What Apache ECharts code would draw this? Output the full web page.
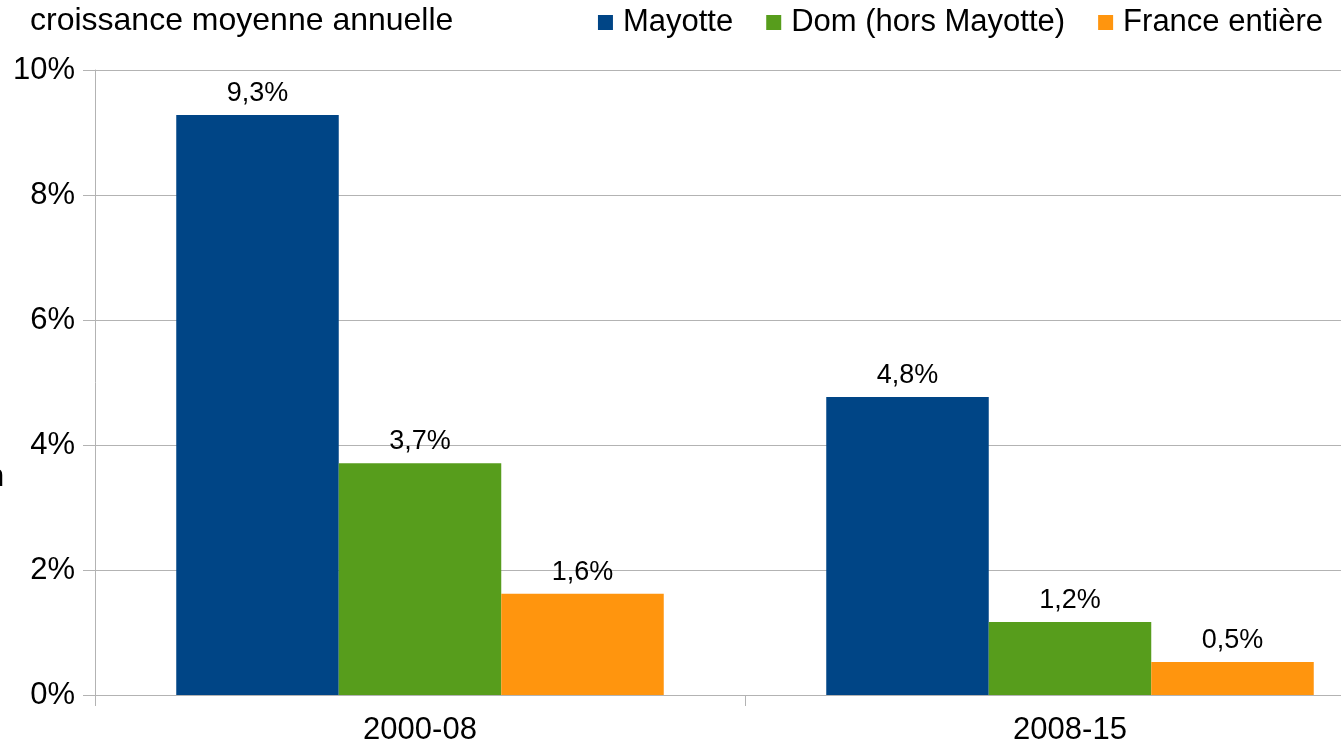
<!DOCTYPE html>
<html>
<head>
<meta charset="utf-8">
<script src="https://cdn.jsdelivr.net/npm/echarts@6/dist/echarts.min.js"></script>
<style>
html, body { margin: 0; padding: 0; background: #fff; overflow: hidden; }
/* the plot area runs past the right edge of the window, as in the reference */
#chart { width: 1395px; height: 747px; }
</style>
</head>
<body>
<div id="chart"></div>
<script>
const categories = ['2000-08', '2008-15'];
const mayotte = [9.28, 4.77];
const domHorsMayotte = [3.71, 1.17];
const franceEntiere = [1.62, 0.53];
const yTicks = [0, 2, 4, 6, 8, 10];

const chart = echarts.init(document.getElementById('chart'));
const font = 'Liberation Sans, Arial, sans-serif';
const axisGray = '#b3b3b3';

function pct(v) {
  return v.toFixed(1).replace('.', ',') + '%';
}

function barSeries(name, data, color) {
  return {
    name: name,
    type: 'bar',
    data: data,
    barGap: 0,
    barCategoryGap: '25%',
    itemStyle: { color: color },
    label: {
      show: true,
      position: 'top',
      distance: 8,
      color: '#000',
      fontFamily: font,
      fontSize: 27,
      formatter: p => pct(p.value)
    }
  };
}

const option = {
  animation: false,
  textStyle: { fontFamily: font },
  title: {
    text: 'croissance moyenne annuelle',
    left: 25,
    top: 0,
    textStyle: { fontFamily: font, fontSize: 32, fontWeight: 'normal', color: '#000' }
  },
  legend: {
    right: 67,
    top: 2,
    itemWidth: 15,
    itemHeight: 15,
    itemGap: 33,
    icon: 'rect',
    textStyle: { fontFamily: font, fontSize: 31, color: '#000', padding: [0, 0, 0, 5] },
    data: ['Mayotte', 'Dom (hors Mayotte)', 'France entière']
  },
  graphic: [{
    type: 'text',
    left: -13,
    top: 462,
    style: { text: 'n', font: '31px ' + font, fill: '#000' }
  }],
  grid: { left: 95, top: 70, right: 0, bottom: 52 },
  xAxis: {
    type: 'category',
    data: categories,
    axisLine: { lineStyle: { color: axisGray, width: 1 } },
    axisTick: { show: true, length: 11, lineStyle: { color: axisGray } },
    axisLabel: { color: '#000', fontFamily: font, fontSize: 31, margin: 20 }
  },
  yAxis: {
    type: 'value',
    min: yTicks[0],
    max: yTicks[yTicks.length - 1],
    interval: 2,
    axisLine: { show: true, lineStyle: { color: axisGray, width: 1 } },
    axisTick: { show: true, length: 12, lineStyle: { color: axisGray } },
    splitLine: { lineStyle: { color: axisGray, width: 1 } },
    axisLabel: { color: '#000', fontFamily: font, fontSize: 31, margin: 20, formatter: v => v + '%' }
  },
  series: [
    barSeries('Mayotte', mayotte, '#004586'),
    barSeries('Dom (hors Mayotte)', domHorsMayotte, '#579d1c'),
    barSeries('France entière', franceEntiere, '#ff950e')
  ]
};

chart.setOption(option);
</script>
</body>
</html>
